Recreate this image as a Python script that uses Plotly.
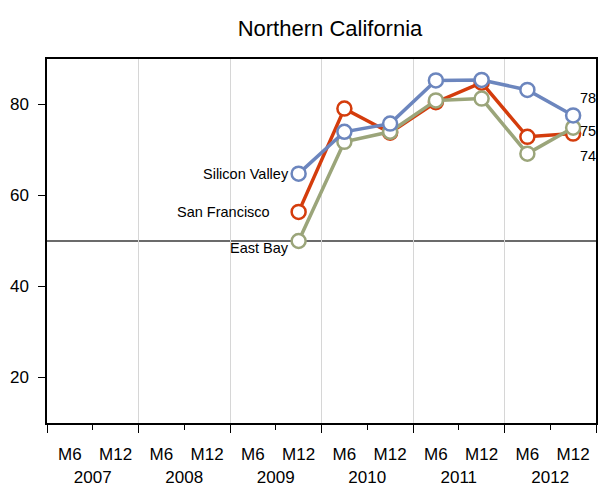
import plotly.graph_objects as go

# ---- data ----
periods = ["2009 M12", "2010 M6", "2010 M12", "2011 M6", "2011 M12", "2012 M6", "2012 M12"]
silicon_valley = [64.8, 74.0, 75.8, 85.3, 85.4, 83.2, 77.6]
san_francisco = [56.4, 79.1, 73.8, 80.5, 84.8, 72.9, 73.6]
east_bay = [50.0, 71.8, 74.0, 80.9, 81.3, 69.2, 74.9]

years = [2007, 2008, 2009, 2010, 2011, 2012]
halves = ["M6", "M12"]
y_ticks = [20, 40, 60, 80]
reference_level = 50

series = [
    ("San Francisco", san_francisco, "#d43c0c"),
    ("East Bay", east_bay, "#9ba57a"),
    ("Silicon Valley", silicon_valley, "#6c86be"),
]


def to_x(p):
    y, h = p.split()
    return (int(y) - years[0]) * 2 + halves.index(h) + 0.5


xs = [to_x(p) for p in periods]
n = len(years) * 2

FONT = "Liberation Sans, Arial, Helvetica, sans-serif"

fig = go.Figure()
for name, vals, col in series:
    fig.add_trace(go.Scatter(
        x=xs, y=vals, mode="lines+markers", name=name,
        line=dict(color=col, width=3.5),
        marker=dict(size=14, color="white", line=dict(color=col, width=2.5)),
        showlegend=False, xaxis="x", yaxis="y",
    ))

# invisible trace so the label axis is drawn
fig.add_trace(go.Scatter(x=xs, y=east_bay, xaxis="x2", yaxis="y",
                         mode="markers", marker=dict(opacity=0),
                         hoverinfo="skip", showlegend=False))

# reference line
fig.add_shape(type="line", xref="paper", x0=0, x1=1, yref="y",
              y0=reference_level, y1=reference_level,
              line=dict(color="#3a3a3a", width=1.3), layer="between")

# left labels
left_cfg = {
    "Silicon Valley": dict(xshift=-8, yshift=0),
    "San Francisco": dict(xshift=-27, yshift=0),
    "East Bay": dict(xshift=-8, yshift=-7),
}
for name, vals, col in series:
    c = left_cfg[name]
    fig.add_annotation(x=xs[0], y=vals[0], text=name, showarrow=False,
                       xanchor="right", yanchor="middle",
                       xshift=c["xshift"], yshift=c["yshift"],
                       font=dict(family=FONT, size=14.5, color="black"))

# right labels (last values)
right_cfg = {
    "Silicon Valley": 17,
    "East Bay": -3,
    "San Francisco": -22,
}
for name, vals, col in series:
    fig.add_annotation(x=xs[-1], y=vals[-1], text=str(round(vals[-1])),
                       showarrow=False, xanchor="left", yanchor="middle",
                       xshift=5, yshift=right_cfg[name],
                       font=dict(family=FONT, size=14.5, color="black"))

# axis label arrays
label_vals, label_text = [], []
for i, yr in enumerate(years):
    label_vals += [2 * i + 0.5, 2 * i + 1.5, 2 * i + 1.0]
    label_text += [halves[0], halves[1], "<br>" + str(yr)]

fig.update_layout(
    width=605, height=487,
    margin=dict(l=47, r=9, t=59, b=64),
    paper_bgcolor="white", plot_bgcolor="white",
    title=dict(text="Northern California", x=330 / 605, xanchor="center",
               y=1 - 28 / 487, yanchor="middle",
               font=dict(family=FONT, size=22, color="black")),
    font=dict(family=FONT, color="black"),
    xaxis=dict(
        range=[0, n], tickmode="array", automargin=False,
        tickvals=list(range(0, n + 1, 2)), ticks="outside", ticklen=8,
        tickwidth=1.2, tickcolor="black", showticklabels=False,
        showgrid=True, gridcolor="#d6d6d6", gridwidth=1.2,
        showline=True, linecolor="black", linewidth=1.5, mirror=True,
        zeroline=False,
        minor=dict(tickmode="array", tickvals=list(range(1, n, 2)),
                   ticks="outside", ticklen=5, tickwidth=1.2,
                   tickcolor="black", showgrid=False),
    ),
    xaxis2=dict(
        range=[0, n], overlaying="x", anchor="y", side="bottom",
        automargin=False, tickangle=0,
        tickmode="array", tickvals=label_vals, ticktext=label_text,
        ticks="outside", ticklen=16, tickcolor="rgba(0,0,0,0)",
        showgrid=False, showline=False, zeroline=False,
        tickfont=dict(family=FONT, size=17, color="black"),
    ),
    yaxis=dict(
        range=[10, 90], tickmode="array", tickvals=y_ticks, automargin=False,
        ticks="outside", ticklen=7, tickwidth=1.2, tickcolor="black",
        ticklabelstandoff=6,
        showgrid=False, zeroline=False,
        showline=True, linecolor="black", linewidth=1.5, mirror=True,
        tickfont=dict(family=FONT, size=17, color="black"),
    ),
)

fig.write_html(
    "out.html",
    config={"displayModeBar": False},
    post_script="document.body.style.margin='0';document.body.style.overflow='hidden';",
)
